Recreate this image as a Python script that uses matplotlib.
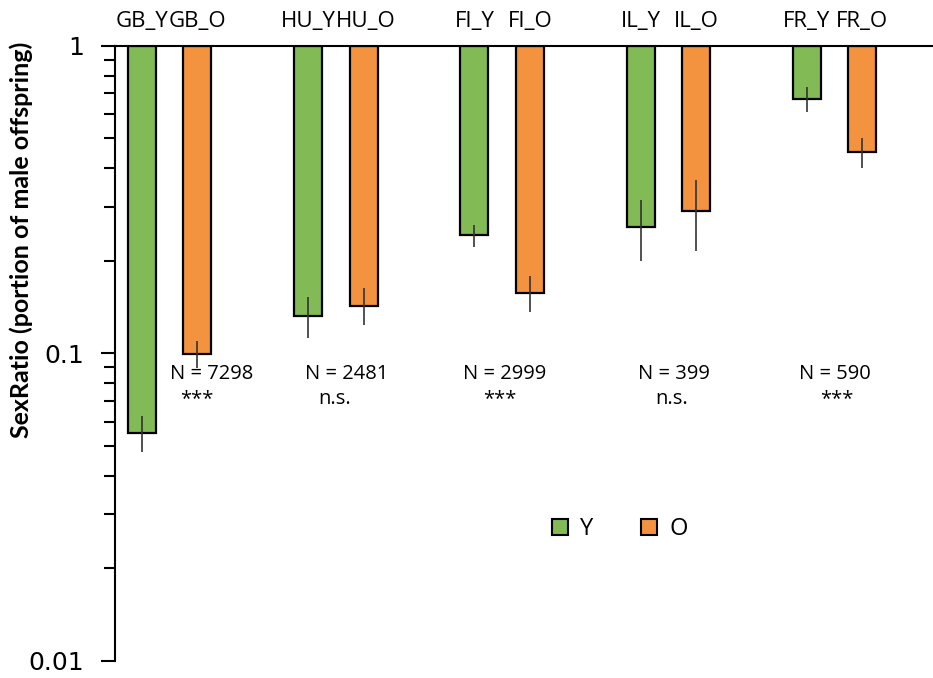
import matplotlib
matplotlib.use("Agg")
import matplotlib.pyplot as plt
from matplotlib.patches import Patch
from matplotlib.transforms import blended_transform_factory
from matplotlib.ticker import LogLocator, FixedLocator, NullFormatter
import numpy as np

# Populations and age classes
populations = ["GB", "HU", "FI", "IL", "FR"]
series = ["Y", "O"]

# Sex ratio (portion of male offspring) per population
ratio_y = [0.0552, 0.132, 0.242, 0.257, 0.672]
ratio_o = [0.0995, 0.143, 0.157, 0.290, 0.450]

# Error bar half-widths
err_y = [0.0075, 0.020, 0.020, 0.057, 0.061]
err_o = [0.0098, 0.0195, 0.021, 0.075, 0.050]

# Sample sizes and significance of the Y/O difference
sample_n = [7298, 2481, 2999, 399, 590]
significance = ["***", "n.s.", "***", "n.s.", "***"]

color_y = "#82BB55"
color_o = "#F39340"
text_font = "Open Sans"

fig = plt.figure(figsize=(9.33, 6.78), dpi=100)
ax = fig.add_axes([115 / 933, 1 - 661 / 678, 818 / 933, (661 - 45.7) / 678])

x = np.arange(len(populations))
offset = 0.167
width = 0.1685

ax.set_yscale("log")
ax.set_ylim(0.01, 1)
ax.set_xlim(-0.3294, 4.5926)

# Bars hang down from the top of the axis (value 1)
for xs, vals, errs, col in [(x - offset, ratio_y, err_y, color_y),
                            (x + offset, ratio_o, err_o, color_o)]:
    vals = np.array(vals)
    ax.bar(xs, 1 - vals, bottom=vals, width=width, color=col,
           edgecolor="black", linewidth=1.6, zorder=2)
    ax.errorbar(xs, vals, yerr=errs, fmt="none", ecolor="#333333",
                elinewidth=1.2, capsize=0, zorder=3)

# Axes styling
for side in ["bottom", "right"]:
    ax.spines[side].set_visible(False)
ax.spines["left"].set_linewidth(1.5)
ax.spines["top"].set_linewidth(1.5)
ax.set_xticks([])
ax.yaxis.set_major_locator(FixedLocator([0.01, 0.1, 1]))
ax.set_yticklabels(["0.01", "0.1", "1"])
ax.yaxis.set_minor_locator(LogLocator(base=10, subs=np.arange(2, 10)))
ax.yaxis.set_minor_formatter(NullFormatter())
ax.tick_params(axis="y", which="major", length=10, width=1.5, direction="out",
               pad=12, labelsize=18)
ax.tick_params(axis="y", which="minor", length=8, width=1.5, direction="out")
for lab in ax.get_yticklabels():
    lab.set_fontfamily("DejaVu Sans")

ax.set_ylabel("SexRatio (portion of male offspring)", fontsize=18,
              fontweight="bold", fontfamily="Lato")
ax.yaxis.set_label_coords(-0.100, 0.684)

# Bar labels along the top; neighbours that would collide are pushed apart
trans = blended_transform_factory(ax.transData, ax.transAxes)
fig.canvas.draw()
renderer = fig.canvas.get_renderer()
for i, pop in enumerate(populations):
    ty = ax.text(x[i] - offset, 1.0304, f"{pop}_{series[0]}", transform=trans,
                 ha="center", va="baseline", fontsize=16, fontfamily=text_font)
    to = ax.text(x[i] + offset, 1.0304, f"{pop}_{series[1]}", transform=trans,
                 ha="center", va="baseline", fontsize=16, fontfamily=text_font)
    by = ty.get_window_extent(renderer)
    bo = to.get_window_extent(renderer)
    if by.x1 > bo.x0:
        ty.set_x(x[i]); ty.set_ha("right")
        to.set_x(x[i]); to.set_ha("left")

# Sample size and significance annotations
note_x = [0.254, 1.067, 2.017, 3.031, 4.003]
sig_x = [0.164, 0.994, 1.987, 3.019, 4.012]
for nx, sx, n, sig in zip(note_x, sig_x, sample_n, significance):
    ax.text(nx, 0.0825, f"N = {n}", ha="center", va="baseline",
            fontsize=14.5, fontfamily=text_font, zorder=4)
    ax.text(sx, 0.0684, sig, ha="center", va="baseline",
            fontsize=14.5, fontfamily=text_font, zorder=4)

handles = [Patch(facecolor=color_y, edgecolor="black", linewidth=1.5),
           Patch(facecolor=color_o, edgecolor="black", linewidth=1.5)]
ax.legend(handles, series, loc="center", bbox_to_anchor=(0.617, 0.214),
          ncol=2, frameon=False, handlelength=0.7, handleheight=0.7,
          handletextpad=0.5, columnspacing=2.0,
          prop={"family": text_font, "size": 17})

fig.savefig("out.png", dpi=100)
